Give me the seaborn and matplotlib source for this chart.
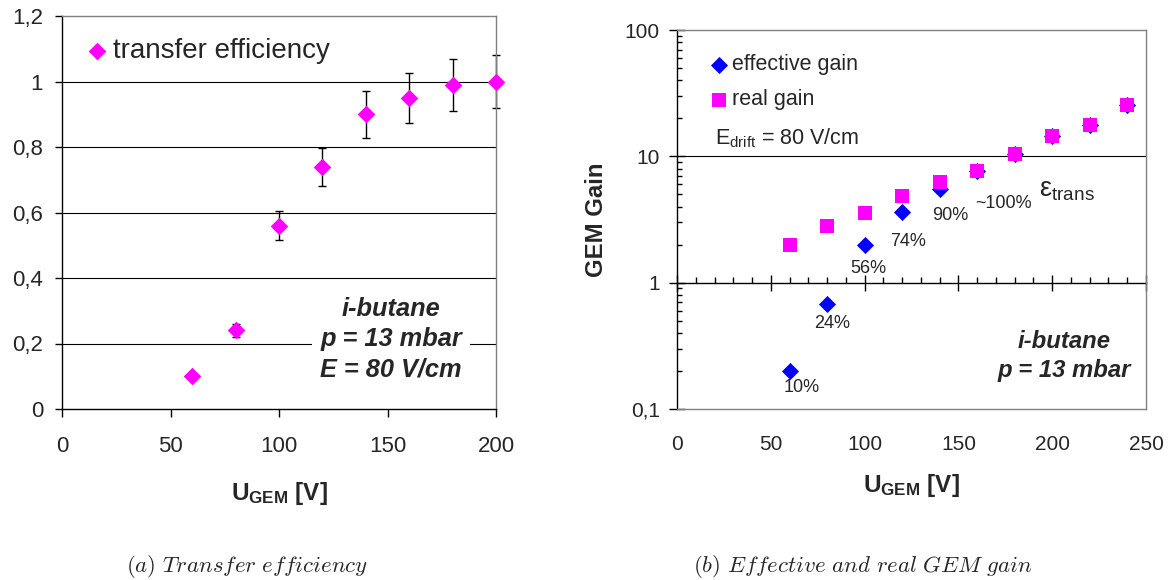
import matplotlib
matplotlib.use("Agg")
import matplotlib.pyplot as plt
import numpy as np
import pandas as pd
import seaborn as sns
from matplotlib.ticker import MultipleLocator, LogLocator, NullFormatter

# ---------------- data ----------------
u_transfer = [60, 80, 100, 120, 140, 160, 180, 200]
transfer_efficiency = [0.10, 0.24, 0.56, 0.74, 0.90, 0.95, 0.99, 1.00]
transfer_error = [0.0, 0.02, 0.044, 0.058, 0.072, 0.076, 0.079, 0.08]

u_gain = [60, 80, 100, 120, 140, 160, 180, 200, 220, 240]
effective_gain = [0.20, 0.68, 2.0, 3.6, 5.55, 7.7, 10.5, 14.6, 17.8, 25.7]
real_gain = [2.0, 2.82, 3.57, 4.83, 6.27, 7.7, 10.5, 14.6, 17.8, 25.7]
efficiency_labels = ["10%", "24%", "56%", "74%", "90%", "~100%"]

left_xticks = [0, 50, 100, 150, 200]
left_yticks = [0, 0.2, 0.4, 0.6, 0.8, 1.0, 1.2]
left_yticklabels = ["0", "0,2", "0,4", "0,6", "0,8", "1", "1,2"]
right_xticks = [0, 50, 100, 150, 200, 250]
right_yticks = [0.1, 1, 10, 100]
right_yticklabels = ["0,1", "1", "10", "100"]

# ---------------- style ----------------
sns.set_style("white")
plt.rcParams["font.family"] = ["Liberation Sans", "DejaVu Sans"]
plt.rcParams["mathtext.fontset"] = "custom"
plt.rcParams["mathtext.rm"] = "Liberation Sans"
plt.rcParams["mathtext.it"] = "Liberation Sans:italic"
plt.rcParams["mathtext.bf"] = "Liberation Sans:bold"

MAG = "#FF00FF"
BLUE = "#0000FF"
GREY = "#808080"

W, H = 1169, 580
fig = plt.figure(figsize=(W / 100, H / 100), dpi=100)
ax1 = fig.add_axes([62 / W, 1 - 409 / H, 434 / W, 393 / H])
ax2 = fig.add_axes([677 / W, 1 - 409 / H, 469 / W, 379 / H])

# ---------------- left: transfer efficiency ----------------
df_t = pd.DataFrame({"U": u_transfer, "eff": transfer_efficiency})
for y in left_yticks[1:-1]:
    ax1.axhline(y, color="black", lw=0.8, zorder=0.5)
ax1.errorbar(u_transfer, transfer_efficiency, yerr=transfer_error, fmt="none",
             ecolor="black", elinewidth=1, capsize=3, capthick=1, zorder=2,
             clip_on=False)
sns.scatterplot(data=df_t, x="U", y="eff", marker="D", s=80, color=MAG,
                edgecolor=MAG, linewidth=0, label="transfer efficiency",
                ax=ax1, zorder=3, clip_on=False)
ax1.set_xlim(0, 200)
ax1.set_ylim(0, 1.2)
ax1.set_xticks(left_xticks)
ax1.set_xticklabels([str(v) for v in left_xticks])
ax1.set_yticks(left_yticks)
ax1.set_yticklabels(left_yticklabels)
ax1.tick_params(axis="x", direction="out", length=5.8, width=1, pad=14,
                labelsize=16, color="black", bottom=True)
ax1.tick_params(axis="y", direction="out", length=5, width=1, pad=8.6,
                labelsize=16, color="black", left=True)
for s in ["left", "bottom"]:
    ax1.spines[s].set_color("black")
    ax1.spines[s].set_linewidth(1)
for s in ["top", "right"]:
    ax1.spines[s].set_color(GREY)
    ax1.spines[s].set_linewidth(1)
ax1.set_xlabel(r"$\mathbf{U_{GEM}}$ [V]", fontsize=17.5, fontweight="bold",
               labelpad=16)
ax1.set_ylabel("")
ax1.legend(loc="upper left", bbox_to_anchor=(0.048, 0.944), frameon=False,
           fontsize=20, handlelength=1, handletextpad=0.08, borderpad=0,
           borderaxespad=0)
ax1.text(151.6, 0.214, "i-butane\np = 13 mbar\nE = 80 V/cm", ha="center",
         va="center", fontsize=18.3, fontweight="bold", fontstyle="italic",
         linespacing=1.33, zorder=4,
         bbox=dict(facecolor="white", edgecolor="none", pad=6))

# ---------------- right: GEM gain ----------------
df_g = pd.DataFrame({"U": u_gain, "effective": effective_gain, "real": real_gain})
ax2.set_yscale("log")
ax2.set_xlim(0, 250)
ax2.set_ylim(0.1, 100)
ax2.axhline(10, color="black", lw=0.8, zorder=0.5)
sns.scatterplot(data=df_g, x="U", y="effective", marker="D", s=76, color=BLUE,
                edgecolor=BLUE, linewidth=0, label="effective gain", ax=ax2,
                zorder=3)
sns.scatterplot(data=df_g, x="U", y="real", marker="s", s=110, color=MAG,
                edgecolor=MAG, linewidth=0, label="real gain", ax=ax2,
                zorder=3)

label_offsets = [(12, -17), (5, -20), (4, -24), (6, -29), (11, -26.5), (26, -33)]
for lab, xv, yv, off in zip(efficiency_labels, u_gain, effective_gain, label_offsets):
    ax2.annotate(lab, xy=(xv, yv), xytext=off, textcoords="offset pixels",
                 ha="center", va="center", fontsize=13)

ax2.text(208, 5.45, "ε" + r"$_{\mathrm{trans}}$", ha="center", va="center",
         fontsize=19.5)
ax2.text(20.3, 14.0, r"E$_{\mathrm{drift}}$ = 80 V/cm", ha="left",
         va="center", fontsize=15.5)
ax2.text(206.6, 0.262, "i-butane\np = 13 mbar", ha="center", va="center",
         fontsize=17.2, fontweight="bold", fontstyle="italic", linespacing=1.36)

ax2.set_yticks(right_yticks)
ax2.set_yticklabels(right_yticklabels)
ax2.yaxis.set_minor_locator(LogLocator(base=10, subs=np.arange(2, 10)))
ax2.yaxis.set_minor_formatter(NullFormatter())
ax2.tick_params(axis="y", which="major", direction="inout", length=12, width=1,
                pad=6.5, labelsize=15, color="black", left=True)
ax2.tick_params(axis="y", which="minor", direction="in", length=3.6, width=1,
                color="black", left=True)
ax2.set_xticks(right_xticks)
ax2.set_xticklabels([str(v) for v in right_xticks])
ax2.tick_params(axis="x", which="both", length=0, pad=18.4, labelsize=15)
ax2.spines["left"].set_color("black")
ax2.spines["left"].set_linewidth(1)
for s in ["top", "right", "bottom"]:
    ax2.spines[s].set_color(GREY)
    ax2.spines[s].set_linewidth(1)

# crossing x axis at gain = 1
ymin, ymax = ax2.get_ylim()
cross = (np.log10(1) - np.log10(ymin)) / (np.log10(ymax) - np.log10(ymin))
sec = ax2.secondary_xaxis(cross)
sec.xaxis.set_major_locator(MultipleLocator(50))
sec.xaxis.set_minor_locator(MultipleLocator(10))
sec.tick_params(axis="x", which="major", direction="inout", length=11, width=1,
                labelbottom=False, labeltop=False, bottom=True, color="black")
sec.tick_params(axis="x", which="minor", direction="in", length=4, width=1,
                bottom=True, color="black")
for s in sec.spines.values():
    s.set_color("black")
    s.set_linewidth(1)

ax2.set_xlabel(r"$\mathbf{U_{GEM}}$ [V]", fontsize=17.5, fontweight="bold",
               labelpad=13)
ax2.set_ylabel("GEM Gain", fontsize=17.3, fontweight="bold", labelpad=12)
ax2.legend(loc="upper left", bbox_to_anchor=(0.066, 0.936), frameon=False,
           fontsize=15.5, handlelength=1, handletextpad=0.12,
           labelspacing=0.66, borderpad=0, borderaxespad=0)

# ---------------- captions ----------------
fig.text(247 / W, 1 - 566 / H, r"$\mathit{(a)\ Transfer\ efficiency}$",
         math_fontfamily="cm", ha="center", va="center", fontsize=16.5)
fig.text(863 / W, 1 - 566 / H, r"$\mathit{(b)\ Effective\ and\ real\ GEM\ gain}$",
         math_fontfamily="cm", ha="center", va="center", fontsize=16.5)

fig.savefig("out.png", dpi=100)
